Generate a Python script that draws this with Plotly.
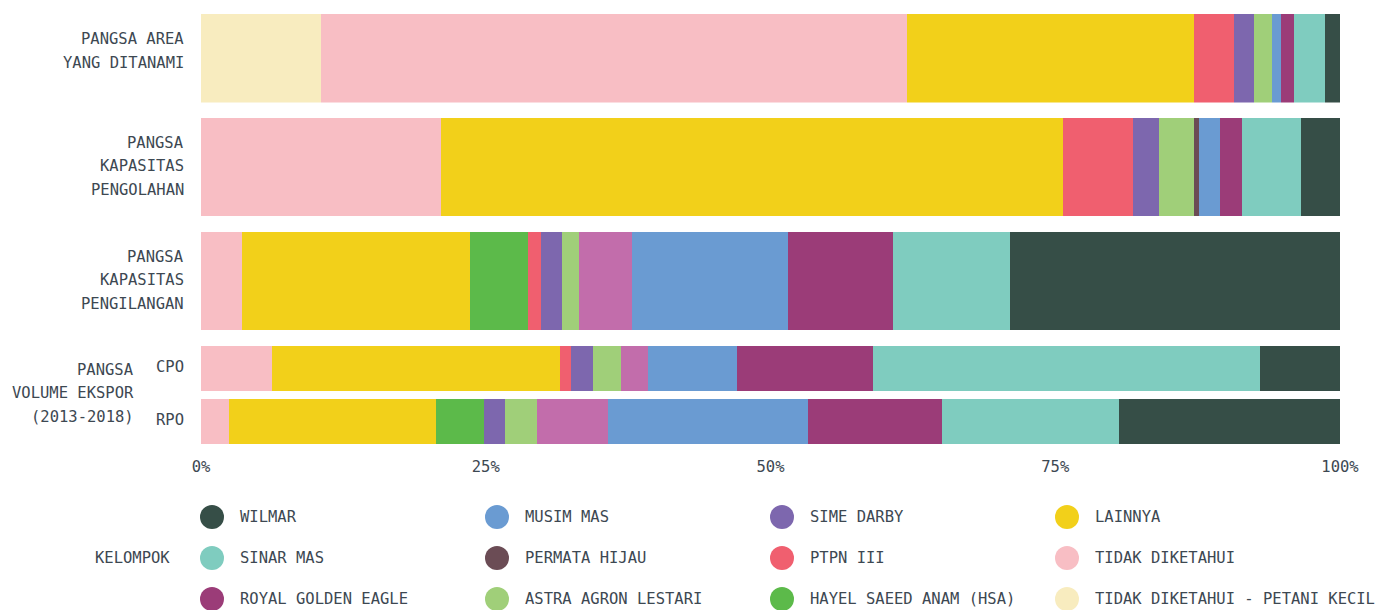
import plotly.graph_objects as go

# ---------------- data ----------------
rows = ["PANGSA AREA YANG DITANAMI", "PANGSA KAPASITAS PENGOLAHAN",
        "PANGSA KAPASITAS PENGILANGAN", "CPO", "RPO"]
row_label_lines = [["PANGSA AREA", "YANG DITANAMI"],
                   ["PANGSA", "KAPASITAS", "PENGOLAHAN"],
                   ["PANGSA", "KAPASITAS", "PENGILANGAN"],
                   ["CPO"], ["RPO"]]
group_label_lines = ["PANGSA", "VOLUME EKSPOR", "(2013-2018)"]
x_ticks = [0, 25, 50, 75, 100]
x_tick_labels = ["0%", "25%", "50%", "75%", "100%"]

# stack order, left to right; values in % per row
series_names = ["TIDAK DIKETAHUI - PETANI KECIL", "TIDAK DIKETAHUI", "LAINNYA",
                "HAYEL SAEED ANAM (HSA)", "PTPN III", "SIME DARBY",
                "ASTRA AGRON LESTARI", "PERMATA HIJAU", "KELOMPOK LAIN",
                "MUSIM MAS", "ROYAL GOLDEN EAGLE", "SINAR MAS", "WILMAR"]
petani_kecil = [10.54, 0, 0, 0, 0]
tidak_diketahui = [51.44, 21.07, 3.60, 6.23, 2.46]
lainnya = [25.20, 54.61, 20.02, 25.29, 18.17]
hsa = [0, 0, 5.09, 0, 4.22]
ptpn_iii = [3.51, 6.15, 1.14, 0.96, 0]
sime_darby = [1.76, 2.28, 1.84, 1.94, 1.84]
astra = [1.58, 3.07, 1.50, 2.45, 2.81]
permata_hijau = [0, 0.44, 0, 0, 0]
kelompok_lain = [0, 0, 4.65, 2.37, 6.23]
musim_mas = [0.79, 1.84, 13.70, 7.82, 17.56]
rge = [1.14, 1.94, 9.22, 11.94, 11.77]
sinar_mas = [2.72, 5.18, 10.27, 33.98, 15.54]
wilmar = [1.32, 3.42, 28.97, 7.02, 19.40]
series_values = [petani_kecil, tidak_diketahui, lainnya, hsa, ptpn_iii, sime_darby,
                 astra, permata_hijau, kelompok_lain, musim_mas, rge, sinar_mas, wilmar]

legend_order = ["WILMAR", "MUSIM MAS", "SIME DARBY", "LAINNYA",
                "SINAR MAS", "PERMATA HIJAU", "PTPN III", "TIDAK DIKETAHUI",
                "ROYAL GOLDEN EAGLE", "ASTRA AGRON LESTARI", "HAYEL SAEED ANAM (HSA)",
                "TIDAK DIKETAHUI - PETANI KECIL"]
legend_title = "KELOMPOK"

# ---------------- style ----------------
colors = {
    "WILMAR": "#364E47",
    "SINAR MAS": "#7FCCBF",
    "ROYAL GOLDEN EAGLE": "#9B3C78",
    "MUSIM MAS": "#6A9BD2",
    "PERMATA HIJAU": "#6B4C55",
    "ASTRA AGRON LESTARI": "#A0CF79",
    "SIME DARBY": "#7D67AE",
    "PTPN III": "#F05F6F",
    "HAYEL SAEED ANAM (HSA)": "#5CBA4A",
    "LAINNYA": "#F2D01A",
    "TIDAK DIKETAHUI": "#F8BEC4",
    "TIDAK DIKETAHUI - PETANI KECIL": "#F8ECBF",
    "KELOMPOK LAIN": "#C26DAB",
}
FONT = "DejaVu Sans Mono"
FS = 15.5
TXT = "#3D4852"

W, H = 1392, 610
L, R, T, B = 201, 52, 14, 166
PH = H - T - B
PW = W - L - R


def py2paper(py):
    return (H - B - py) / PH


def px2paper(px):
    return (px - L) / PW


row_px = [(14, 102.5), (118, 216), (232, 330), (346, 391), (399, 444)]
label_up = [7, 1, 1, 1.5, 2]
LINE = 23.5


def yname(i):
    return "y" if i == 0 else f"y{i + 1}"


fig = go.Figure()
for name, vals in zip(series_names, series_values):
    for ri, v in enumerate(vals):
        if v == 0:
            continue
        fig.add_trace(go.Bar(
            x=[v], y=[rows[ri]], orientation="h", name=name,
            marker=dict(color=colors[name], line=dict(width=0)),
            xaxis="x", yaxis=yname(ri), showlegend=False,
            hovertemplate=name + ": %{x:.1f}%<extra></extra>",
        ))

layout = dict(
    width=W, height=H,
    margin=dict(l=L, r=R, t=T, b=B, pad=0),
    paper_bgcolor="white", plot_bgcolor="white",
    barmode="stack", bargap=0,
    showlegend=False,
    font=dict(family=FONT, size=FS, color=TXT),
    xaxis=dict(anchor="y5", range=[0, 100], tickmode="array",
               tickvals=x_ticks, ticktext=x_tick_labels,
               ticks="outside", ticklen=8, tickcolor="rgba(0,0,0,0)",
               showgrid=False, zeroline=False, showline=False,
               tickfont=dict(family=FONT, size=FS, color=TXT), fixedrange=True),
)
for ri, (top, bot) in enumerate(row_px):
    key = "yaxis" if ri == 0 else f"yaxis{ri + 1}"
    layout[key] = dict(domain=[py2paper(bot), py2paper(top)], anchor="x",
                       showticklabels=False, showgrid=False, zeroline=False,
                       showline=False, ticks="", fixedrange=True)
fig.update_layout(**layout)

annotations = []
# row labels
for ri, lines in enumerate(row_label_lines):
    n = len(lines)
    for li, line in enumerate(lines):
        annotations.append(dict(
            text=line, xref="paper", x=0, xanchor="right", xshift=-15,
            yref=f"{yname(ri)} domain", y=0.5, yanchor="middle",
            yshift=label_up[ri] + ((n - 1) / 2 - li) * LINE,
            showarrow=False, font=dict(family=FONT, size=FS, color=TXT)))
# group label for export rows
gc = 393
for li, line in enumerate(group_label_lines):
    annotations.append(dict(
        text=line, xref="paper", x=px2paper(136), xanchor="right",
        yref="paper", y=py2paper(gc), yanchor="middle",
        yshift=(1 - li) * LINE, showarrow=False,
        font=dict(family=FONT, size=FS, color=TXT)))

# manual legend (large circles)
shapes = []
col_x = [212, 497, 782, 1067]
row_y = [517, 558, 599]
for i, name in enumerate(legend_order):
    cx = col_x[i % 4]
    cy = row_y[i // 4]
    shapes.append(dict(type="circle", xref="paper", yref="paper",
                       xsizemode="pixel", ysizemode="pixel",
                       xanchor=px2paper(cx), yanchor=py2paper(cy),
                       x0=-12, x1=12, y0=-12, y1=12,
                       fillcolor=colors[name], line=dict(width=0), layer="above"))
    annotations.append(dict(text=name, xref="paper", x=px2paper(cx + 26), xanchor="left",
                            yref="paper", y=py2paper(cy), yanchor="middle",
                            showarrow=False, font=dict(family=FONT, size=FS, color=TXT)))
annotations.append(dict(text=legend_title, xref="paper", x=px2paper(172), xanchor="right",
                        yref="paper", y=py2paper(558), yanchor="middle",
                        showarrow=False, font=dict(family=FONT, size=FS, color=TXT)))

fig.update_layout(annotations=annotations, shapes=shapes)
fig.write_html("out.html", config={"displayModeBar": False},
               post_script="document.body.style.margin='0';")
